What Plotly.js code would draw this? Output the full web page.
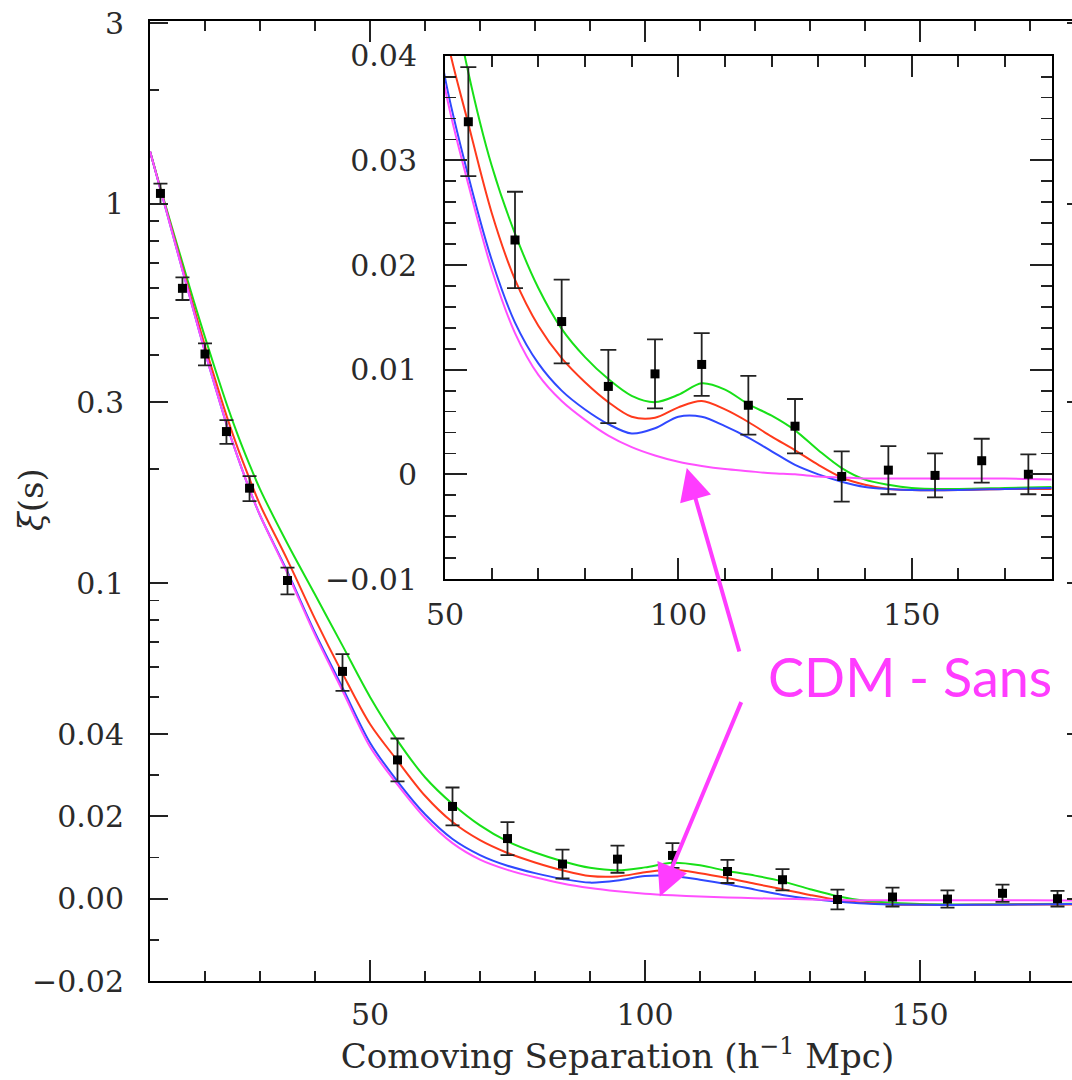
<!DOCTYPE html>
<html>
<head>
<meta charset="utf-8">
<script src="https://cdn.plot.ly/plotly-3.0.1.min.js"></script>
<style>
html,body{margin:0;padding:0;overflow:hidden;background:#fff;}
#chart{width:1090px;height:1080px;}
</style>
</head>
<body>
<div id="chart"></div>
<script>
// ---- data ----
const sep = [11.9, 15.9, 20, 23.9, 28.1, 35, 45, 55, 65, 75, 85, 95, 105, 115, 125, 135, 145, 155, 165, 175];
const xi = [1.066, 0.599, 0.402, 0.251, 0.178, 0.1016, 0.0585, 0.0337, 0.0224, 0.0146, 0.0084, 0.0096, 0.0105, 0.0066, 0.0046, -0.0002, 0.0004, -0.0001, 0.0013, 0.0000];
const xiErr = [0.065, 0.041, 0.027, 0.018, 0.0135, 0.0082, 0.0065, 0.0052, 0.0046, 0.0040, 0.0035, 0.0033, 0.0030, 0.0028, 0.0026, 0.0024, 0.0023, 0.0021, 0.0021, 0.0019];

const modelSep = [10,12,14,16,18,20,22,24,26,28,30,35,40,45,50,55,60,65,70,75,80,85,90,95,100,105,110,115,120,125,130,135,140,145,150,160,170,180];
const modelGreen = [1.377,1.089,0.867,0.692,0.552,0.445,0.361,0.295,0.245,0.207,0.177,0.127,0.0933,0.0684,0.0501,0.0384,0.0295,0.0230,0.0178,0.0139,0.0112,0.0091,0.0075,0.0069,0.0076,0.0087,0.0081,0.0067,0.0056,0.0042,0.0023,0.0006,-0.0005,-0.0010,-0.0013,-0.0014,-0.0013,-0.0012];
const modelRed = [1.377,1.084,0.855,0.673,0.531,0.422,0.339,0.274,0.226,0.190,0.161,0.115,0.0805,0.0578,0.0425,0.0335,0.0250,0.0186,0.0142,0.0111,0.0088,0.0069,0.0055,0.0054,0.0064,0.0070,0.0062,0.0050,0.0036,0.0023,0.0009,-0.0003,-0.0010,-0.0014,-0.0015,-0.0015,-0.0014,-0.0014];
const modelBlue = [1.377,1.079,0.845,0.661,0.518,0.407,0.324,0.260,0.214,0.178,0.151,0.107,0.0740,0.0530,0.0379,0.0285,0.0205,0.0145,0.0106,0.0080,0.0062,0.0048,0.0039,0.0044,0.0055,0.0055,0.0046,0.0035,0.0022,0.0009,0.0000,-0.0007,-0.0012,-0.0014,-0.0015,-0.0015,-0.0014,-0.0013];
const modelNoBaryon = [1.377,1.079,0.845,0.661,0.518,0.407,0.324,0.260,0.214,0.178,0.151,0.106,0.0730,0.0520,0.0369,0.0277,0.0196,0.0135,0.0095,0.0070,0.0052,0.0037,0.0026,0.0018,0.0012,0.0008,0.0005,0.0003,0.0001,0.0000,-0.0002,-0.0003,-0.0004,-0.0004,-0.0004,-0.0004,-0.0004,-0.0005];

const mainYTicks = [3, 1, 0.3, 0.1, 0.04, 0.02, 0, -0.02];
const mainYTickText = ['3', '1', '0.3', '0.1', '0.04', '0.02', '0.00', '\u22120.02'];
const mainYMinor = [2, 0.9, 0.8, 0.7, 0.6, 0.5, 0.4, 0.2, 0.09, 0.08, 0.07, 0.06, 0.05, 0.03, 0.01, -0.01];
const mainXTicks = [50, 100, 150];
const insetYTicks = [0.04, 0.03, 0.02, 0.01, 0, -0.01];
const insetYTickText = ['0.04', '0.03', '0.02', '0.01', '0', '\u22120.01'];
const insetXTicks = [50, 100, 150];

// ---- main-panel y scale: log above 0.04, linear below (continuous slope) ----
const YB = 0.04;
function T(v){ return v >= YB ? Math.log10(v) : Math.log10(YB) + (v - YB)/(YB*Math.LN10); }

// ---- geometry (pixels) ----
const L = 150, R = 1085, TOP = 21, BOT = 981;
const PW = R - L, PH = BOT - TOP;
const px = x => (x - L)/PW;
const py = y => (BOT - y)/PH;

const cGreen = '#18e018', cRed = '#ff3a1c', cBlue = '#3048ff', cMag = '#ff50ff';
const serif = 'DejaVu Serif, serif';
const txtCol = '#2a2a2a';
const tickFont = {family: serif, size: 30, color: txtCol};

const models = [
  {y: modelGreen, c: cGreen},
  {y: modelRed, c: cRed},
  {y: modelBlue, c: cBlue},
  {y: modelNoBaryon, c: cMag}
];

const traces = [];
models.forEach(m => {
  traces.push({x: modelSep, y: m.y.map(T), xaxis: 'x', yaxis: 'y', mode: 'lines',
    line: {color: m.c, width: 2, shape: 'spline', smoothing: 0.9}, hoverinfo: 'skip'});
});
traces.push({x: sep, y: xi.map(T), xaxis: 'x', yaxis: 'y', mode: 'markers',
  marker: {symbol: 'square', size: 9, color: '#000'},
  error_y: {type: 'data', symmetric: false,
    array: xi.map((v,i) => T(v + xiErr[i]) - T(v)),
    arrayminus: xi.map((v,i) => T(v) - T(v - xiErr[i])),
    color: '#222', thickness: 1.8, width: 7}});

models.forEach(m => {
  traces.push({x: modelSep, y: m.y, xaxis: 'x2', yaxis: 'y2', mode: 'lines',
    line: {color: m.c, width: 2, shape: 'spline', smoothing: 0.9}, hoverinfo: 'skip'});
});
traces.push({x: sep, y: xi, xaxis: 'x2', yaxis: 'y2', mode: 'markers',
  marker: {symbol: 'square', size: 9, color: '#000'},
  error_y: {type: 'data', array: xiErr, color: '#222', thickness: 1.8, width: 8}});

const axBase = {showgrid: false, zeroline: false, showline: true, linecolor: '#000', linewidth: 2,
  ticks: 'inside', tickcolor: '#222', tickwidth: 1.8, mirror: 'ticks', tickfont: tickFont};

const layout = {
  width: 1090, height: 1080,
  margin: {l: L, r: 1090 - R, t: TOP, b: 1080 - BOT},
  paper_bgcolor: '#fff', plot_bgcolor: '#fff', showlegend: false,
  xaxis: Object.assign({}, axBase, {
    domain: [0, 1], anchor: 'y', range: [10, 180],
    tickmode: 'array', tickvals: mainXTicks, ticklen: 21, ticklabelstandoff: 6,
    minor: {tickmode: 'linear', tick0: 0, dtick: 10, ticks: 'inside', ticklen: 10, tickwidth: 1.8, tickcolor: '#222'},
    title: {text: 'Comoving Separation (h<sup>\u22121</sup> Mpc)', font: {family: serif, size: 34, color: txtCol}, standoff: 12}
  }),
  yaxis: Object.assign({}, axBase, {
    domain: [0, 1], anchor: 'x', range: [T(-0.02), 0.4825],
    tickmode: 'array', tickvals: mainYTicks.map(T), ticktext: mainYTickText, ticklen: 18, ticklabelstandoff: 18,
    minor: {tickmode: 'array', tickvals: mainYMinor.map(T), ticks: 'inside', ticklen: 9, tickwidth: 1.8, tickcolor: '#222'}
  }),
  xaxis2: Object.assign({}, axBase, {
    domain: [px(445), px(1051.7)], anchor: 'y2', range: [50, 180],
    tickmode: 'array', tickvals: insetXTicks, ticklen: 21, ticklabelstandoff: 8,
    minor: {tickmode: 'linear', tick0: 0, dtick: 10, ticks: 'inside', ticklen: 11, tickwidth: 1.8, tickcolor: '#222'}
  }),
  yaxis2: Object.assign({}, axBase, {
    domain: [py(579), py(55.7)], anchor: 'x2', range: [-0.01, 0.04],
    tickmode: 'array', tickvals: insetYTicks, ticktext: insetYTickText, ticklen: 22, ticklabelstandoff: 20,
    minor: {tickmode: 'linear', tick0: 0, dtick: 0.002, ticks: 'inside', ticklen: 11, tickwidth: 1.8, tickcolor: '#222'}
  }),
  annotations: [
    {xref: 'paper', yref: 'paper', x: px(31), y: py(500), text: '<i>\u03be</i>(s)', showarrow: false,
      textangle: -90, xanchor: 'center', yanchor: 'middle', font: {family: serif, size: 34, color: txtCol}},
    {xref: 'paper', yref: 'paper', x: px(766), y: py(676), text: 'CDM - Sans', showarrow: false,
      xanchor: 'left', yanchor: 'middle', font: {family: 'Lato, sans-serif', size: 54, color: '#ff3cff'}},
    {xref: 'x2', yref: 'y2', x: 101.8, y: 0.0006, text: '', showarrow: true, axref: 'pixel', ayref: 'pixel',
      ax: 53, ay: 185, arrowcolor: '#ff3cff', arrowwidth: 4, arrowhead: 2, arrowsize: 1.6},
    {xref: 'x', yref: 'y', x: 102.7, y: T(0.0005), text: '', showarrow: true, axref: 'pixel', ayref: 'pixel',
      ax: 82, ay: -196, arrowcolor: '#ff3cff', arrowwidth: 4, arrowhead: 2, arrowsize: 1.6}
  ]
};

Plotly.newPlot('chart', traces, layout, {displayModeBar: false, staticPlot: true});
</script>
</body>
</html>
